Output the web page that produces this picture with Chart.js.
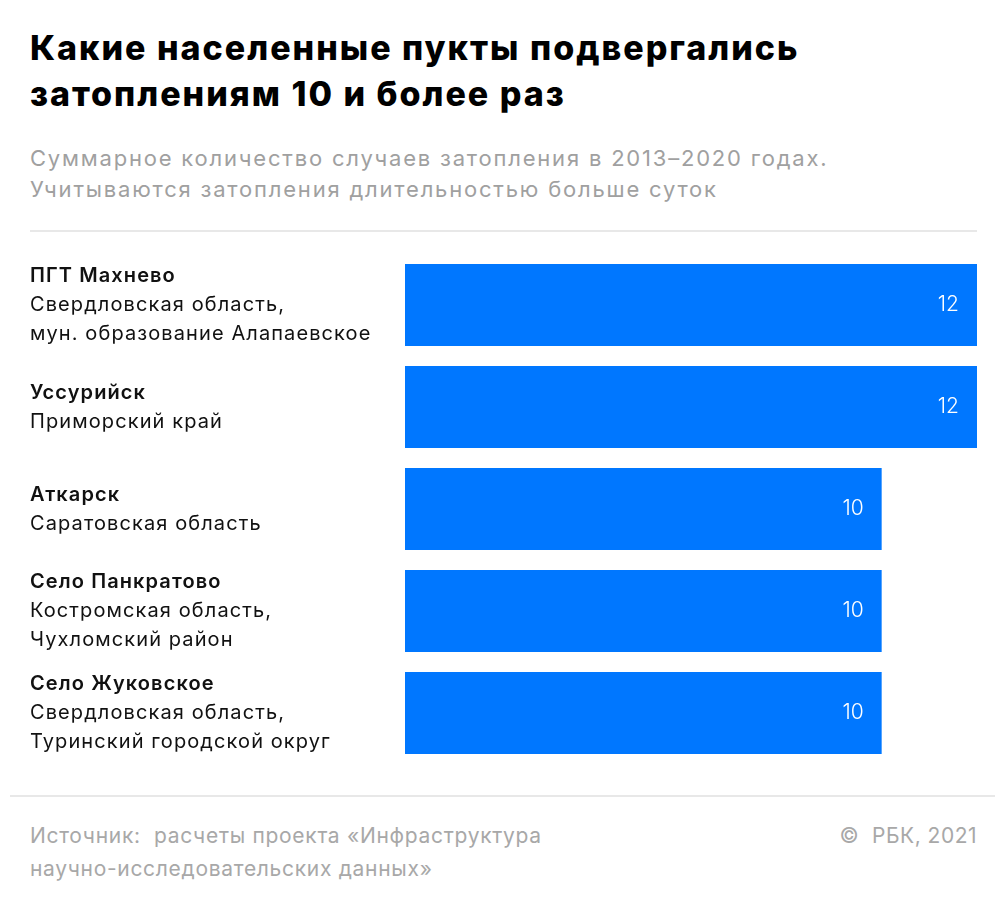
<!DOCTYPE html>
<html>
<head>
<meta charset="utf-8">
<script src="https://cdn.jsdelivr.net/npm/chart.js@4"></script>
<style>
    body { margin: 0; width: 1005px; height: 910px; background: #fff; position: relative; overflow: hidden; font-family: Inter, sans-serif; }
    .title { position: absolute; left: 30px; top: 25px; font-size: 34px; font-weight: 800; line-height: 46px; color: #000; letter-spacing: 2px; white-space: nowrap; }
    .subtitle { position: absolute; left: 30px; top: 143px; font-size: 22px; line-height: 31px; color: #a0a0a0; letter-spacing: 1.8px; white-space: nowrap; }
    .rule { position: absolute; height: 2px; background: #e8e8e8; }
    .footer { position: absolute; top: 819px; font-size: 21px; line-height: 33px; color: #a8a8a8; letter-spacing: 0.7px; white-space: nowrap; }
    #wrap { position: absolute; left: 0; top: 240px; width: 1005px; height: 540px; }
</style>
</head>
<body>
<div class="title">Какие населенные пукты подвергались<br>затоплениям 10 и более раз</div>
<div class="subtitle">Суммарное количество случаев затопления в 2013–2020 годах.<br>Учитываются затопления длительностью больше суток</div>
<div class="rule" style="left:30px; width:947px; top:230px;"></div>
<div id="wrap"><canvas id="chart"></canvas></div>
<div class="rule" style="left:10px; width:985px; top:795px;"></div>
<div class="footer" style="left:30px;">Источник:&nbsp; расчеты проекта «Инфраструктура<br>научно-исследовательских данных»</div>
<div class="footer" style="right:28px; letter-spacing:0.5px;">©&nbsp; РБК, 2021</div>
<script>
// Data
const places = ['ПГТ Махнево', 'Уссурийск', 'Аткарск', 'Село Панкратово', 'Село Жуковское'];
const regions = [
    ['Свердловская область,', 'мун. образование Алапаевское'],
    ['Приморский край'],
    ['Саратовская область'],
    ['Костромская область,', 'Чухломский район'],
    ['Свердловская область,', 'Туринский городской округ']
];
const floods = [12, 12, 10, 10, 10];

// Category labels: bold name + regular region lines, centred on each bar
const labelPlugin = {
    id: 'placeLabels',
    afterDraw(chart) {
        const ctx = chart.ctx;
        const y = chart.scales.y;
        const lineH = 29;
        ctx.save();
        ctx.textBaseline = 'middle';
        ctx.textAlign = 'left';
        ctx.letterSpacing = '1.1px';
        places.forEach((name, i) => {
            const lines = [name, ...regions[i]];
            const cy = y.getPixelForValue(i);
            const top = cy - (lines.length - 1) * lineH / 2;
            lines.forEach((text, j) => {
                ctx.font = (j === 0 ? '600 ' : '400 ') + '20px Inter, sans-serif';
                ctx.fillStyle = '#111';
                ctx.fillText(text, 30, top + j * lineH);
            });
        });
        ctx.restore();
    }
};

// Value labels inside bar ends
const valuePlugin = {
    id: 'valueLabels',
    afterDatasetsDraw(chart) {
        const ctx = chart.ctx;
        const meta = chart.getDatasetMeta(0);
        ctx.save();
        ctx.font = '300 21px Inter, sans-serif';
        ctx.fillStyle = '#fff';
        ctx.textAlign = 'right';
        ctx.textBaseline = 'middle';
        meta.data.forEach((bar, i) => {
            ctx.fillText(String(floods[i]), bar.x - 18, bar.y);
        });
        ctx.restore();
    }
};

new Chart(document.getElementById('chart'), {
    type: 'bar',
    data: {
        labels: places,
        datasets: [{
            data: floods,
            backgroundColor: '#0077FF',
            borderWidth: 0,
            barPercentage: 0.9,
            categoryPercentage: 0.894
        }]
    },
    options: {
        indexAxis: 'y',
        responsive: true,
        maintainAspectRatio: false,
        animation: false,
        layout: { padding: { left: 405, right: 28, top: 14, bottom: 16 } },
        plugins: {
            legend: { display: false },
            tooltip: { enabled: false }
        },
        scales: {
            x: { display: false, min: 0, max: 12 },
            y: { display: false }
        }
    },
    plugins: [labelPlugin, valuePlugin]
});
</script>
</body>
</html>
